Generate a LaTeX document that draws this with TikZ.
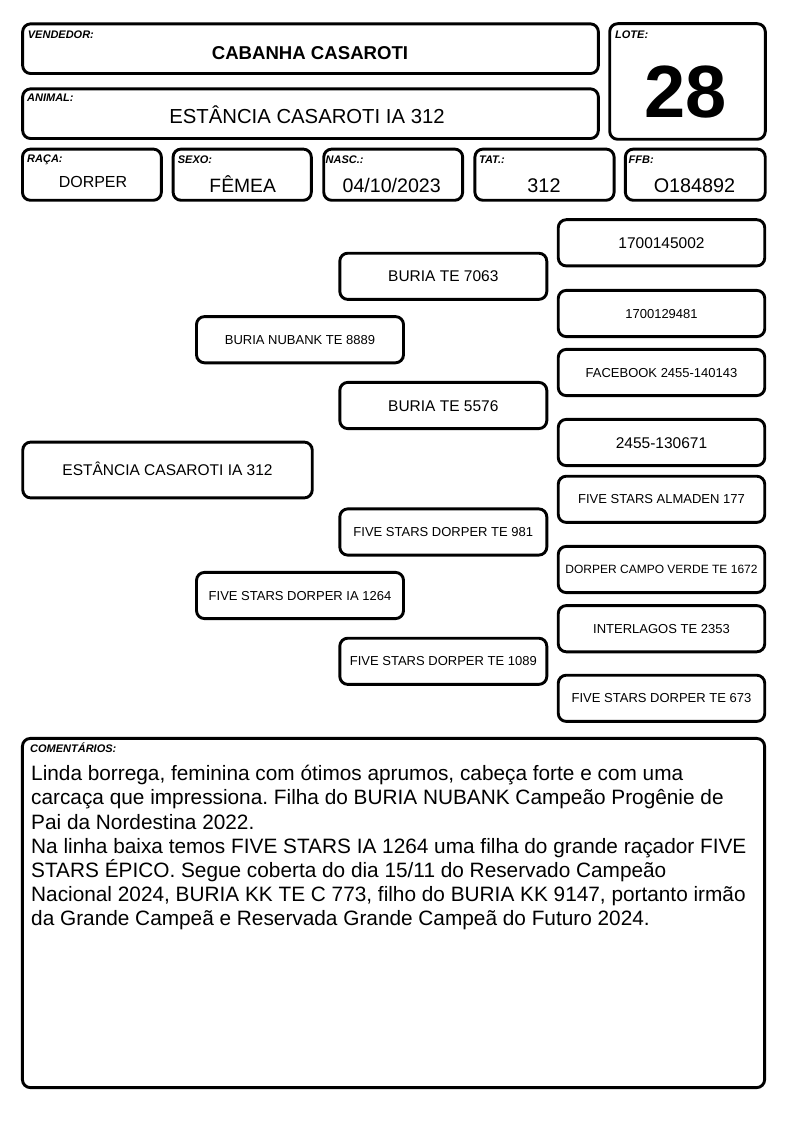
\documentclass[tikz,border=0pt]{standalone}
\usepackage{fontspec}
\setmainfont{Liberation Sans}
\frenchspacing
\begin{document}
\begin{tikzpicture}[x=1pt,y=-1pt,
  frame/.style={draw, line width=2.9pt, rounded corners=8pt, inner sep=0pt, outer sep=0pt},
  lbl/.style={anchor=base west, inner sep=0pt, font=\fontsize{11}{13}\selectfont\bfseries\itshape},
  val/.style={anchor=base, inner sep=0pt},
  pbox/.style={frame, minimum height=46.2pt, text depth=0pt},
  g1/.style={pbox, minimum width=207pt},
  g2/.style={pbox, minimum width=207pt},
  g3/.style={pbox, minimum width=206.5pt},
  fbig/.style={font=\fontsize{15.5}{17}\selectfont, text height=11.1pt},
  fsmall/.style={font=\fontsize{13}{15}\selectfont, text height=9.3pt},
  ftiny/.style={font=\fontsize{12}{14}\selectfont, text height=8.6pt},
  cline/.style={anchor=base west, inner sep=0pt, font=\fontsize{20.8}{24.2}\selectfont}
]
\fill[white] (0,0) rectangle (794,1123);
\useasboundingbox (0,0) rectangle (794,1123);

% header boxes
\node[frame, minimum width=575.7pt, minimum height=49.7pt] (vend) at (310.5,48.7) {};
\node[frame, minimum width=575.7pt, minimum height=49.7pt] (anim) at (310.5,113.7) {};
\node[frame, minimum width=155.6pt, minimum height=115.6pt] (lote) at (687.5,81.5) {};
\node[frame, minimum width=138.9pt, minimum height=51.2pt] (raca) at (91.9,174.7) {};
\node[frame, minimum width=138.2pt, minimum height=51.2pt] (sexo) at (242.2,174.7) {};
\node[frame, minimum width=138.9pt, minimum height=51.2pt] (nasc) at (393.2,174.7) {};
\node[frame, minimum width=139.2pt, minimum height=51.2pt] (tat) at (544.5,174.7) {};
\node[frame, minimum width=139.9pt, minimum height=51.2pt] (ffb) at (695.3,174.7) {};

% labels
\node[lbl] (lvend) at (27.7,39) {VENDEDOR:};
\node[lbl] (lanim) at (27,102) {ANIMAL:};
\node[lbl] (llote) at (615,39) {LOTE:};
\node[lbl] (lraca) at (27,163) {RAÇA:};
\node[lbl] (lsexo) at (177.7,164) {SEXO:};
\node[lbl] (lnasc) at (325.5,164) {NASC.:};
\node[lbl] (ltat) at (479,164) {TAT.:};
\node[lbl] (lffb) at (628.5,164) {FFB:};

% values
\node[val, font=\fontsize{18.6}{20}\selectfont\bfseries] (vvend) at (310,60) {CABANHA CASAROTI};
\node[val, font=\fontsize{20.3}{22}\selectfont] (vanim) at (307,123.3) {ESTÂNCIA CASAROTI IA 312};
\node[val, font=\fontsize{74}{80}\selectfont\bfseries] (vlote) at (686,117.7) {28};
\node[val, font=\fontsize{16}{18}\selectfont] (vraca) at (93,188) {DORPER};
\node[val, font=\fontsize{19.3}{21}\selectfont] (vsexo) at (242.7,192.7) {FÊMEA};
\node[val, font=\fontsize{19.6}{21}\selectfont] (vnasc) at (391.7,192.7) {04/10/2023};
\node[val, font=\fontsize{19.8}{21}\selectfont] (vtat) at (544,192.7) {312};
\node[val, font=\fontsize{19.8}{21}\selectfont] (vffb) at (694.5,192.7) {O184892};

% pedigree
\node[pbox, fbig, minimum width=289.5pt, minimum height=55.8pt] (p0) at (167.5,470) {ESTÂNCIA CASAROTI IA 312};

\node[g1, fsmall] (s) at (300,339.7) {BURIA NUBANK TE 8889};
\node[g1, fsmall] (d) at (300,595.5) {FIVE STARS DORPER IA 1264};

\node[g2, fbig] (ss) at (443.3,276.3) {BURIA TE 7063};
\node[g2, fbig] (sd) at (443.3,405.5) {BURIA TE 5576};
\node[g2, fsmall] (ds) at (443.3,532) {FIVE STARS DORPER TE 981};
\node[g2, fsmall] (dd) at (443.3,661.3) {FIVE STARS DORPER TE 1089};

\node[g3, fbig] (sss) at (661.5,242.8) {1700145002};
\node[g3, fsmall] (ssd) at (661.5,313.5) {1700129481};
\node[g3, fsmall] (sds) at (661.5,372.5) {FACEBOOK 2455-140143};
\node[g3, fbig] (sdd) at (661.5,442.5) {2455-130671};
\node[g3, fsmall] (dss) at (661.5,499.3) {FIVE STARS ALMADEN 177};
\node[g3, ftiny] (dsd) at (661.5,569.5) {DORPER CAMPO VERDE TE 1672};
\node[g3, fsmall] (dds) at (661.5,628.7) {INTERLAGOS TE 2353};
\node[g3, fsmall] (ddd) at (661.5,698.3) {FIVE STARS DORPER TE 673};

% comments
\node[frame, minimum width=742.2pt, minimum height=349.2pt] (com) at (393.5,913) {};
\node[lbl] (lcom) at (30,752.7) {COMENTÁRIOS:};
\node[cline] (c1) at (31,780.7) {Linda borrega, feminina com ótimos aprumos, cabeça forte e com uma};
\node[cline] (c2) at (31,804.9) {carcaça que impressiona. Filha do BURIA NUBANK Campeão Progênie de};
\node[cline] (c3) at (31,829.1) {Pai da Nordestina 2022.};
\node[cline] (c4) at (31,853.3) {Na linha baixa temos FIVE STARS IA 1264 uma filha do grande raçador FIVE};
\node[cline] (c5) at (31,877.5) {STARS ÉPICO. Segue coberta do dia 15/11 do Reservado Campeão};
\node[cline] (c6) at (31,901.7) {Nacional 2024, BURIA KK TE C 773, filho do BURIA KK 9147, portanto irmão};
\node[cline] (c7) at (31,925.9) {da Grande Campeã e Reservada Grande Campeã do Futuro 2024.};
\end{tikzpicture}
\end{document}
